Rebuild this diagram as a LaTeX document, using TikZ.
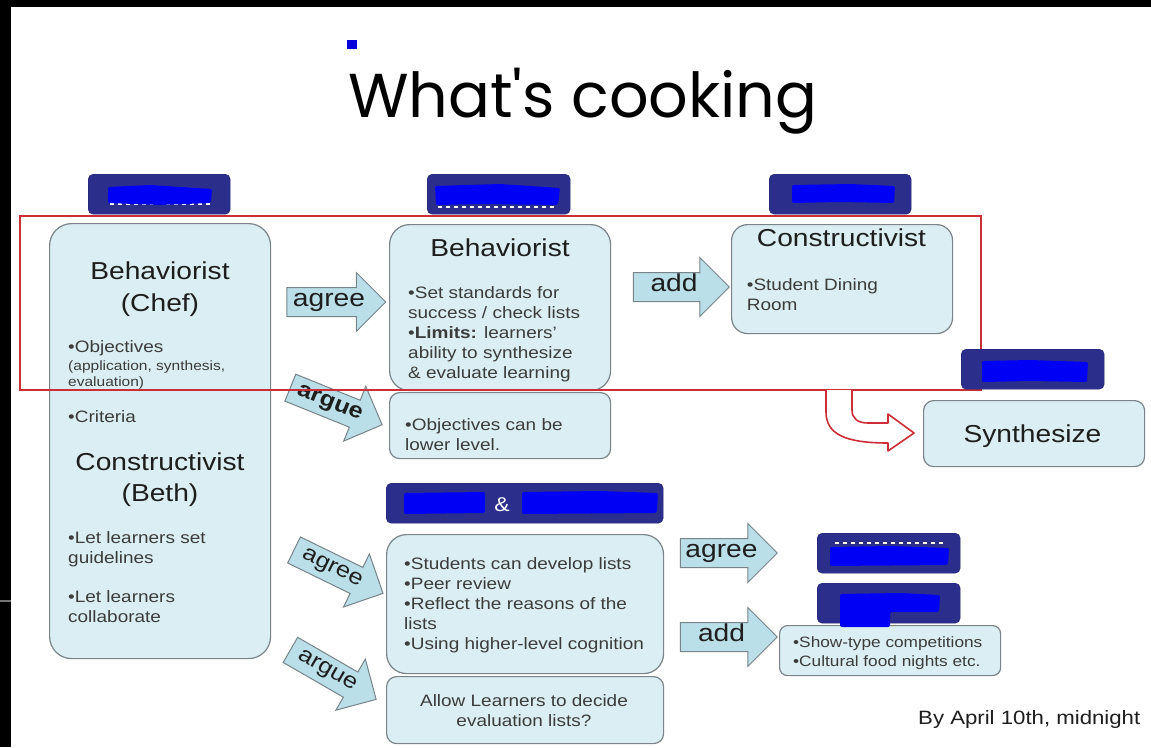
\documentclass[tikz,border=0pt]{standalone}
\usepackage{fontspec}
\setmainfont{Liberation Sans}[FakeStretch=1.15]
\newfontfamily\titlefont{Poppins}
\usetikzlibrary{shapes.arrows}
\definecolor{boxfill}{RGB}{219,238,243}
\definecolor{boxdraw}{RGB}{122,132,138}
\definecolor{arrowfill}{RGB}{186,223,232}
\definecolor{arrowdraw}{RGB}{120,132,138}
\definecolor{navy}{RGB}{44,46,140}
\definecolor{scribble}{RGB}{0,0,245}
\definecolor{redline}{RGB}{205,45,55}
\definecolor{headtxt}{RGB}{30,30,30}
\definecolor{bodytxt}{RGB}{60,60,60}
\newcommand\fsz[2]{\fontsize{#1}{#2}\selectfont}
\begin{document}
\begin{tikzpicture}[x=1pt,y=-1pt,
  box/.style={draw=boxdraw, fill=boxfill, line width=1.2pt, inner sep=0pt, anchor=north west},
  hdr/.style={fill=navy, draw=navy!80!black, rounded corners=5pt, inner sep=0pt, anchor=north west, minimum height=40pt},
  scrib/.style={fill=scribble, rounded corners=2pt},
  rem/.style={white, line width=1.1pt, dash pattern=on 4pt off 4pt},
  arr/.style={single arrow, draw=arrowdraw, fill=arrowfill, line width=1pt,
    minimum height=99pt, minimum width=57pt, single arrow head extend=15pt,
    inner xsep=4pt, inner ysep=5pt, text height=13pt, text depth=5pt,
    font=\fsz{24.5}{28}, text=headtxt},
  head/.style={inner sep=0pt, anchor=base, font=\fsz{24.5}{30}, text=headtxt},
  bul/.style={inner sep=0pt, anchor=base west, align=left, font=\fsz{16.5}{19.9}, text=bodytxt},
  small/.style={inner sep=0pt, anchor=base west, align=left, font=\fsz{13.5}{16.7}, text=bodytxt}
]
\useasboundingbox (0,0) rectangle (1151,747);
\fill[white] (0,0) rectangle (1151,747);
\fill[black] (0,0) rectangle (1151,7);
\fill[black] (0,0) rectangle (11,747);
\draw[black!55, line width=1.5pt] (0,601) -- (11,601);

% title
\fill[scribble!90!black] (347,40) rectangle (357,49);
\node[inner sep=0pt, anchor=base west, font=\titlefont\fsz{62}{70}, text=black] (title) at (348,117) {What's cooking};

% boxes
\node[box, rounded corners=22pt, minimum width=221pt, minimum height=435pt] (left) at (49,223) {};
\node[box, rounded corners=20pt, minimum width=221pt, minimum height=166pt] (mbeh) at (389,224) {};
\node[box, rounded corners=10pt, minimum width=221pt, minimum height=66pt] (mobj) at (389,392) {};
\node[box, rounded corners=16pt, minimum width=221pt, minimum height=109pt] (rcon) at (731,224) {};
\node[box, rounded corners=10pt, minimum width=221pt, minimum height=66pt] (synth) at (923,400) {};
\node[box, rounded corners=20pt, minimum width=277pt, minimum height=139pt] (low) at (386,534) {};
\node[box, rounded corners=10pt, minimum width=277pt, minimum height=67pt] (allow) at (386,676) {};
\node[box, rounded corners=8pt, minimum width=221pt, minimum height=50pt] (show) at (779,625) {};

% headers
\node[hdr, minimum width=142pt] (h1) at (88,174) {};
\node[hdr, minimum width=143pt] (h2) at (427,174) {};
\node[hdr, minimum width=142pt] (h3) at (769,174) {};
\node[hdr, minimum width=277pt] (h5) at (386,483) {};
\node[hdr, minimum width=143pt] (h6) at (817,533) {};
\node[hdr, minimum width=143pt] (h7) at (817,583) {};
\draw[rem] (110,204) -- (210,204);
\fill[scrib] (108,187) -- (150,185) -- (212,189) -- (211,203) -- (160,205) -- (108,203) -- cycle;
\draw[rem] (438,207) -- (555,207);
\fill[scrib] (435,186) -- (500,184) -- (560,188) -- (558,205) -- (480,204) -- (436,205) -- cycle;
\fill[scrib] (792,185) -- (850,184) -- (895,186) -- (894,203) -- (840,202) -- (792,203) -- cycle;
\fill[scrib] (404,493) -- (485,492) -- (485,513) -- (404,514) -- cycle;
\fill[scrib] (522,492) -- (600,491) -- (658,493) -- (657,513) -- (522,514) -- cycle;
\node[inner sep=0pt, anchor=base, font=\fsz{20}{24}, text=white] (amp) at (502,511) {\&};
\draw[rem] (835,543) -- (945,543);
\fill[scrib] (830,547) -- (890,546) -- (949,548) -- (948,565) -- (830,566) -- cycle;
\fill[scrib] (840,594) -- (900,593) -- (940,595) -- (939,612) -- (890,612) -- (890,627) -- (840,627) -- cycle;

% block arrows
\node[arr] (agree1) at (329,302) {agree};
\node[arr, minimum height=96pt] (add1) at (674,287) {add};
\node[arr, rotate=-22, font=\bfseries\fsz{22}{26}] (argue1) at (329.5,403.5) {argue};
\node[arr, rotate=-26, font=\fsz{22}{26}] (agree2) at (332,568.5) {agree};
\node[arr, rotate=-30, font=\fsz{22}{26}] (argue2) at (327,671) {argue};
\node[arr, minimum height=97pt] (agree3) at (721.5,553) {agree};
\node[arr, minimum height=97pt] (add2) at (721.5,637) {add};

% red frame and U-turn arrow
\draw[redline, line width=2pt] (20,216) rectangle (981,390);
\draw[redline, line width=1.6pt, fill=white, line join=round]
  (826,390) -- (826,412) .. controls (826,434) and (845,443) .. (888,443)
  -- (888,451) -- (914,433) -- (888,414) -- (888,423) -- (868,423)
  .. controls (857,423) and (852,418) .. (852,410) -- (852,390);
\node[hdr, minimum width=143pt] (h4) at (961,349) {};
\draw[rem] (985,376) -- (1085,376);
\fill[scrib] (982,361) -- (1030,360) -- (1088,362) -- (1087,382) -- (1030,381) -- (982,382) -- cycle;

% left box text (multi-line nodes: base = last line's baseline)
\node[head] (lbh) at (160,279) {Behaviorist};
\node[head] (lch) at (160,311) {(Chef)};
\node[bul] (lobj) at (68,352.7) {•Objectives};
\node[small] (lapp) at (68,386.7) {(application, synthesis,\\evaluation)};
\node[bul] (lcrit) at (68,422.7) {•Criteria};
\node[head] (lcon) at (160,470) {Constructivist};
\node[head] (lbeth) at (160,501.7) {(Beth)};
\node[bul] (llet) at (68,563) {•Let learners set\\guidelines};
\node[bul] (lcol) at (68,622.7) {•Let learners\\collaborate};

% middle texts
\node[head] (mbh) at (500,256.7) {Behaviorist};
\node[bul] (mset) at (408,378) {•Set standards for\\success / check lists\\•\textbf{Limits:} learners’\\ability to synthesize\\\& evaluate learning};
\node[bul] (mobjt) at (405,450) {•Objectives can be\\lower level.};

% right texts
\node[head] (rch) at (841.5,246.7) {Constructivist};
\node[bul] (rsd) at (746.7,310) {•Student Dining\\Room};
\node[head] (syn) at (1032.5,442.7) {Synthesize};

% lower texts
\node[bul] (lowt) at (404,649) {•Students can develop lists\\•Peer review\\•Reflect the reasons of the\\lists\\•Using higher-level cognition};
\node[bul, anchor=base, align=center] (allowt) at (524,726.7) {Allow Learners to decide\\evaluation lists?};
\node[bul, font=\fsz{15}{19}] (showt) at (793,666.7) {•Show-type competitions\\•Cultural food nights etc.};
\node[inner sep=0pt, anchor=base west, font=\fsz{19.3}{23}, text=headtxt] (by) at (918,724) {By April 10th, midnight};
\end{tikzpicture}
\end{document}
